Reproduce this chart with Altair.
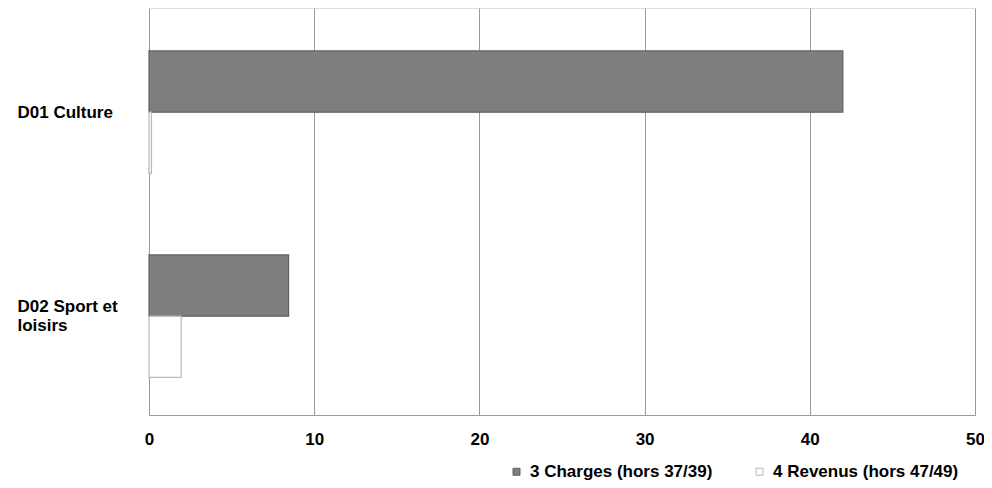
import altair as alt
import pandas as pd

categories = ["D01 Culture", "D01 Culture", "D02 Sport et loisirs", "D02 Sport et loisirs"]
series = ["3 Charges (hors 37/39)", "4 Revenus (hors 47/49)",
          "3 Charges (hors 37/39)", "4 Revenus (hors 47/49)"]
values = [42.0, 0.15, 8.45, 1.95]

series_names = ["3 Charges (hors 37/39)", "4 Revenus (hors 47/49)"]
fill_colors = ["#7c7e80", "#ffffff"]
stroke_colors = ["#5e6062", "#b8b8b8"]
x_ticks = [0, 10, 20, 30, 40, 50]

df = pd.DataFrame({"cat": categories, "series": series, "value": values})

FONT = "Liberation Sans"
FS = 17

bars = alt.Chart(df).mark_bar(strokeWidth=1.2).encode(
    y=alt.Y("cat:N", title=None,
            scale=alt.Scale(paddingInner=0.4, paddingOuter=0.1975, align=0.533),
            axis=alt.Axis(labelFont=FONT, labelFontSize=FS, labelFontWeight="bold",
                          labelColor="#000000", labelAlign="left", labelPadding=132,
                          labelBaseline="middle", labelLineHeight=19,
                          labelOffset={"condition": {"test": "datum.value == 'D02 Sport et loisirs'",
                                                     "value": -9},
                                       "value": 1},
                          labelExpr="datum.value == 'D02 Sport et loisirs' ? ['D02 Sport et', '\\u2007loisirs'] : datum.value",
                          ticks=False, domain=False, grid=False)),
    yOffset=alt.YOffset("series:N", sort=series_names,
                        scale=alt.Scale(paddingInner=0, paddingOuter=0)),
    x=alt.X("value:Q", title=None,
            scale=alt.Scale(domain=[0, 50], nice=False),
            axis=alt.Axis(values=x_ticks, labelFont=FONT, labelFontSize=FS,
                          labelFontWeight="bold", labelColor="#000000",
                          labelFlush=False,
                          labelPadding=16, ticks=False, domain=True,
                          domainColor="#9a9a9a", domainWidth=1,
                          grid=True, gridColor="#9a9a9a", gridWidth=1)),
    fill=alt.Fill("series:N", sort=series_names,
                  scale=alt.Scale(domain=series_names, range=fill_colors),
                  legend=alt.Legend(title=None, orient="none", direction="horizontal",
                                    legendX=359, legendY=455, padding=0,
                                    symbolType="square", symbolSize=49,
                                    symbolStrokeWidth=1, labelOffset=5,
                                    columnPadding=38, labelLimit=400,
                                    labelFont=FONT, labelFontSize=FS,
                                    labelFontWeight="bold", labelColor="#000000")),
    stroke=alt.Stroke("series:N", sort=series_names,
                      scale=alt.Scale(domain=series_names, range=stroke_colors),
                      legend=None),
)

chart = bars.properties(
    width=826, height=407,
    autosize=alt.AutoSizeParams(type="none"),
    padding={"left": 141, "top": 0, "right": 9, "bottom": 65},
).configure_view(stroke=None).configure(background="#ffffff")

chart.save("out.html", embed_options={"renderer": "svg", "actions": False})
